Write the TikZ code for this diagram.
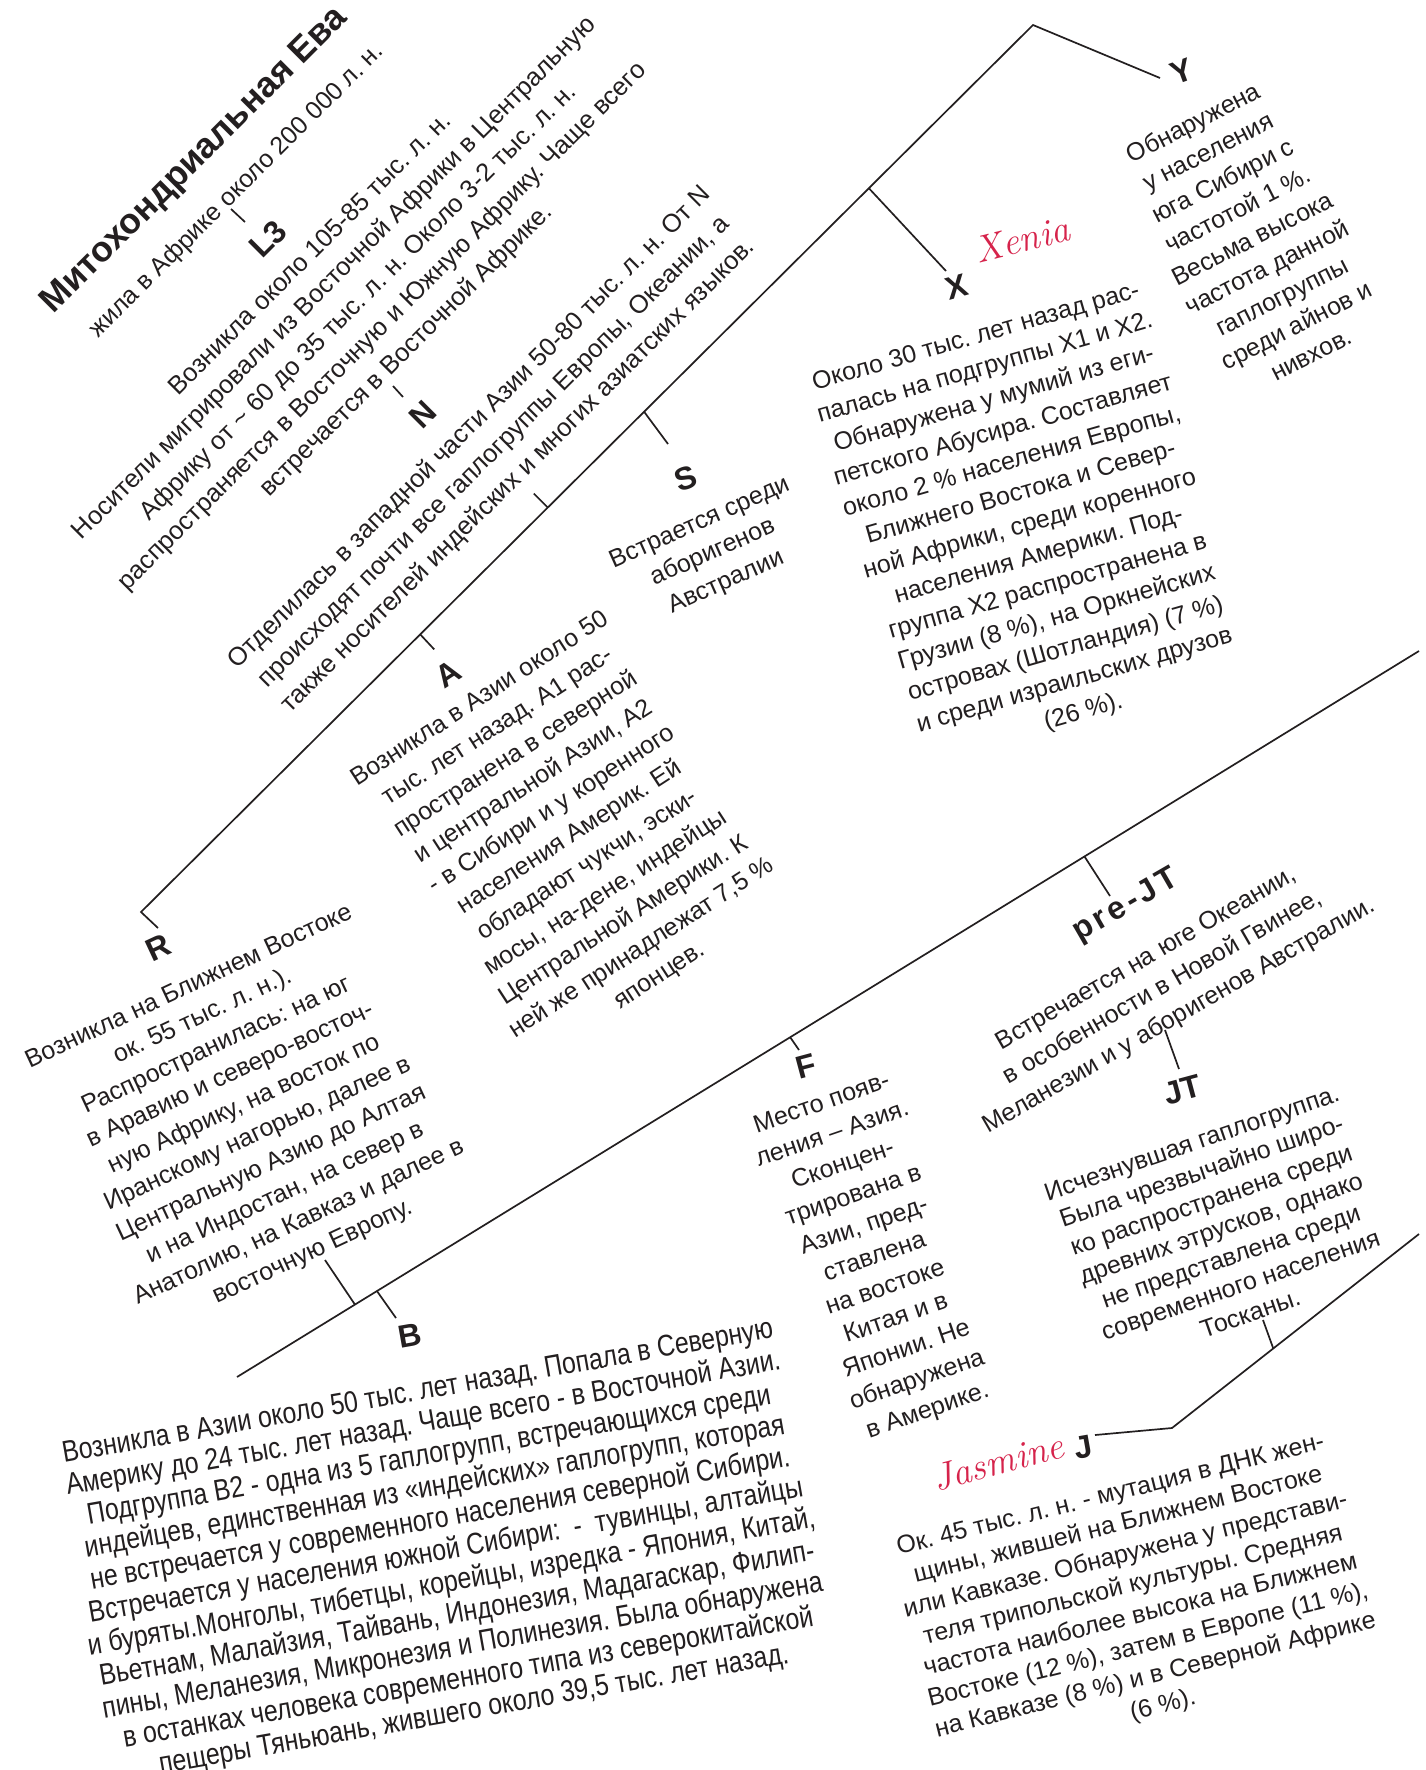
\documentclass[tikz,border=0pt]{standalone}
\usepackage{fontspec}
\newfontfamily\arialfont{Liberation Sans}
\newfontfamily\narrowfont[FakeStretch=0.83]{Liberation Sans}
\newfontfamily\spacedfont[LetterSpace=12]{Liberation Sans}
\usetikzlibrary{calc}
\frenchspacing

\definecolor{ink}{RGB}{35,31,32}
\definecolor{namered}{RGB}{214,35,75}

\tikzset{
  body/.style={font=\arialfont\fontsize{25}{32.5}\selectfont, align=center, inner sep=0pt, text=ink},
  lab/.style={font=\arialfont\bfseries\fontsize{32}{32}\selectfont, inner sep=0pt, text=ink},
  girl/.style={font=\rmfamily\itshape\fontsize{38}{38}\selectfont, inner sep=0pt, text=namered},
  branch/.style={line width=1.7pt, draw=ink},
}

\begin{document}
\begin{tikzpicture}[x=1pt,y=-1pt]

    % Page frame
    \fill[white] (0,0) rectangle (1426,1770);
    \useasboundingbox (0,0) rectangle (1426,1770);

    % Title and root
    \node[font=\arialfont\bfseries\fontsize{35.5}{35.5}\selectfont, text=ink, rotate=45] (eve) at (195,161) {Митохондриальная\ Ева};
    \node[body, font=\arialfont\fontsize{25}{25}\selectfont, rotate=45] (evetxt) at (237,191) {жила в Африке около 200 000 л. н.};

    % L3
    \coordinate (l3a) at (231,209);
    \coordinate (l3b) at (245,222);
    \draw[branch] (l3a) -- (l3b);
    \node[lab, rotate=45] (L3) at (268,239) {L3};
    \node[body, font=\arialfont\fontsize{25.5}{34}\selectfont, rotate=45] (L3txt) at (359,303) {Возникла около 105-85 тыс. л. н.\\
      Носители мигрировали из Восточной Африки в Центральную\\
      Африку от \textasciitilde{} 60 до 35 тыс. л. н. Около 3-2 тыс. л. н.\\
      распространяется в Восточную и Южную Африку. Чаще всего\\
      встречается в Восточной Африке.};

    % N
    \coordinate (na) at (393,386);
    \coordinate (nb) at (403,397);
    \draw[branch] (na) -- (nb);
    \node[lab, rotate=45] (N) at (423,415) {N};
    \node[body, font=\arialfont\fontsize{25.5}{34}\selectfont, rotate=45] (Ntxt) at (494,452) {Отделилась в западной части Азии 50-80 тыс. л. н. От N\\
      происходят почти все гаплогруппы Европы, Океании, а\\
      также носителей индейских и многих азиатских языков.};

    % Upper main branch: R corner -> apex -> Y
    \coordinate (rc) at (141,912);
    \coordinate (apex) at (1033,25);
    \coordinate (yend) at (1160,78);
    \coordinate (rtick) at (158,928);
    \draw[branch] (rtick) -- (rc) -- (apex) -- (yend);

    % Branch points on the upper line
    \coordinate (pa) at ($(rc)!0.313!(apex)$);
    \coordinate (pn) at ($(rc)!0.456!(apex)$);
    \coordinate (ps) at ($(rc)!0.564!(apex)$);
    \coordinate (px) at ($(rc)!0.816!(apex)$);
    \coordinate (ea) at ($(pa)+(14,15)$);
    \coordinate (en) at ($(pn)+(-14,-14)$);
    \coordinate (es) at (668,444);
    \coordinate (ex) at (946,271);
    \draw[branch] (pa) -- (ea);
    \draw[branch] (pn) -- (en);
    \draw[branch] (ps) -- (es);
    \draw[branch] (px) -- (ex);

    % S
    \node[lab, rotate=20] (S) at (686,478) {S};
    \node[body, rotate=24] (Stxt) at (713,553) {Встрается среди\\аборигенов\\Австралии};

    % X
    \node[lab, rotate=16] (X) at (957,287) {X};
    \node[girl, rotate=14] (xenia) at (1022,239) {Xenia};
    \node[body, rotate=16] (Xtxt) at (1030,525) {Около 30 тыс. лет назад рас-\\
      палась на подгруппы X1 и X2.\\
      Обнаружена у мумий из еги-\\
      петского Абусира. Составляет\\
      около 2 \% населения Европы,\\
      Ближнего Востока и Север-\\
      ной Африки, среди коренного\\
      населения Америки. Под-\\
      группа X2 распространена в\\
      Грузии (8 \%), на Оркнейских\\
      островах (Шотландия) (7 \%)\\
      и среди израильских друзов\\
      (26 \%).};

    % Y
    \node[lab, rotate=20] (Y) at (1182,72) {Y};
    \node[body, rotate=27] (Ytxt) at (1252,238) {Обнаружена\\
      у населения\\
      юга Сибири с\\
      частотой 1 \%.\\
      Весьма высока\\
      частота данной\\
      гаплогруппы\\
      среди айнов и\\
      нивхов.};

    % A
    \node[lab, rotate=33] (A) at (448,674) {A};
    \node[body, font=\arialfont\fontsize{25}{33}\selectfont, rotate=33] (Atxt) at (570,838) {Возникла в Азии около 50\\
      тыс. лет назад. A1 рас-\\
      пространена в северной\\
      и центральной Азии, A2\\
      - в Сибири и у коренного\\
      населения Америк. Ей\\
      обладают чукчи, эски-\\
      мосы, на-дене, индейцы\\
      Центральной Америки. К\\
      ней же принадлежат 7,5 \%\\
      японцев.};

    % R
    \node[lab, rotate=25] (R) at (158,948) {R};
    \node[body, rotate=25] (Rtxt) at (251,1120) {Возникла на Ближнем Востоке\\
      ок. 55 тыс. л. н.).\\
      Распространилась: на юг\\
      в Аравию и северо-восточ-\\
      ную Африку, на восток по\\
      Иранскому нагорью, далее в\\
      Центральную Азию до Алтая\\
      и на Индостан, на север в\\
      Анатолию, на Кавказ и далее в\\
      восточную Европу.};

    % Lower main branch
    \coordinate (bl) at (237,1377);
    \coordinate (br) at (1419,651);
    \draw[branch] (bl) -- (br);
    \coordinate (pr) at ($(bl)!0.0998!(br)$);
    \coordinate (pb) at ($(bl)!0.1184!(br)$);
    \coordinate (pf) at ($(bl)!0.468!(br)$);
    \coordinate (pj) at ($(bl)!0.717!(br)$);
    \coordinate (er) at (325,1260);
    \coordinate (eb) at (396,1318);
    \coordinate (ef) at (799,1050);
    \coordinate (ej) at (1110,896);
    \draw[branch] (er) -- (pr);
    \draw[branch] (pb) -- (eb);
    \draw[branch] (pf) -- (ef);
    \draw[branch] (pj) -- (ej);

    % B
    \node[lab, rotate=10] (B) at (410,1336) {B};
    \node[body, font=\narrowfont\fontsize{30}{32.3}\selectfont, rotate=10] (Btxt) at (446,1552) {Возникла в Азии около 50 тыс. лет назад. Попала в Северную\\
      Америку до 24 тыс. лет назад. Чаще всего - в Восточной Азии.\\
      Подгруппа B2 - одна из 5 гаплогрупп, встречающихся среди\\
      индейцев, единственная из «индейских» гаплогрупп, которая\\
      не встречается у современного населения северной Сибири.\\
      Встречается у населения южной Сибири:~ -~ тувинцы, алтайцы\\
      и буряты.Монголы, тибетцы, корейцы, изредка - Япония, Китай,\\
      Вьетнам, Малайзия, Тайвань, Индонезия, Мадагаскар, Филип-\\
      пины, Меланезия, Микронезия и Полинезия. Была обнаружена\\
      в останках человека современного типа из северокитайской\\
      пещеры Тяньюань, жившего около 39,5 тыс. лет назад.};

    % F
    \node[lab, rotate=15] (F) at (806,1066) {F};
    \node[body, rotate=19] (Ftxt) at (875,1258) {Место появ-\\
      ления – Азия.\\
      Сконцен-\\
      трирована в\\
      Азии, пред-\\
      ставлена\\
      на востоке\\
      Китая и в\\
      Японии. Не\\
      обнаружена\\
      в Америке.};

    % pre-JT
    \node[lab, font=\spacedfont\bfseries\fontsize{32}{32}\selectfont, rotate=30] (preJT) at (1126,906) {pre-JT};
    \node[body, font=\arialfont\fontsize{25}{33}\selectfont, rotate=30] (preJTtxt) at (1163,988) {Встречается на юге Океании,\\
      в особенности в Новой Гвинее,\\
      Меланезии и у аборигенов Австралии.};

    % JT
    \coordinate (jta) at (1165,1030);
    \coordinate (jtb) at (1179,1069);
    \draw[branch] (jta) -- (jtb);
    \node[lab, rotate=15] (JT) at (1183,1090) {JT};
    \node[body, font=\arialfont\fontsize{25}{30}\selectfont, rotate=19] (JTtxt) at (1221,1228) {Исчезнувшая гаплогруппа.\\
      Была чрезвычайно широ-\\
      ко распространена среди\\
      древних этрусков, однако\\
      не представлена среди\\
      современного населения\\
      Тосканы.};

    % J
    \coordinate (jr) at (1419,1234);
    \coordinate (jk) at (1172,1428);
    \coordinate (jl) at (1095,1435);
    \coordinate (jtc) at (1263,1320);
    \coordinate (jtd) at ($(jk)!0.41!(jr)$);
    \draw[branch] (jr) -- (jk) -- (jl);
    \draw[branch] (jtc) -- (jtd);
    \node[lab, rotate=10] (J) at (1083,1447) {J};
    \node[girl, rotate=15] (jasmine) at (998,1462) {Jasmine};
    \node[body, font=\arialfont\fontsize{25}{31}\selectfont, rotate=14] (Jtxt) at (1137,1601) {Ок. 45 тыс. л. н. - мутация в ДНК жен-\\
      щины, жившей на Ближнем Востоке\\
      или Кавказе. Обнаружена у представи-\\
      теля трипольской культуры. Средняя\\
      частота наиболее высока на Ближнем\\
      Востоке (12 \%), затем в Европе (11 \%),\\
      на Кавказе (8 \%) и в Северной Африке\\
      (6 \%).};

\end{tikzpicture}
\end{document}
